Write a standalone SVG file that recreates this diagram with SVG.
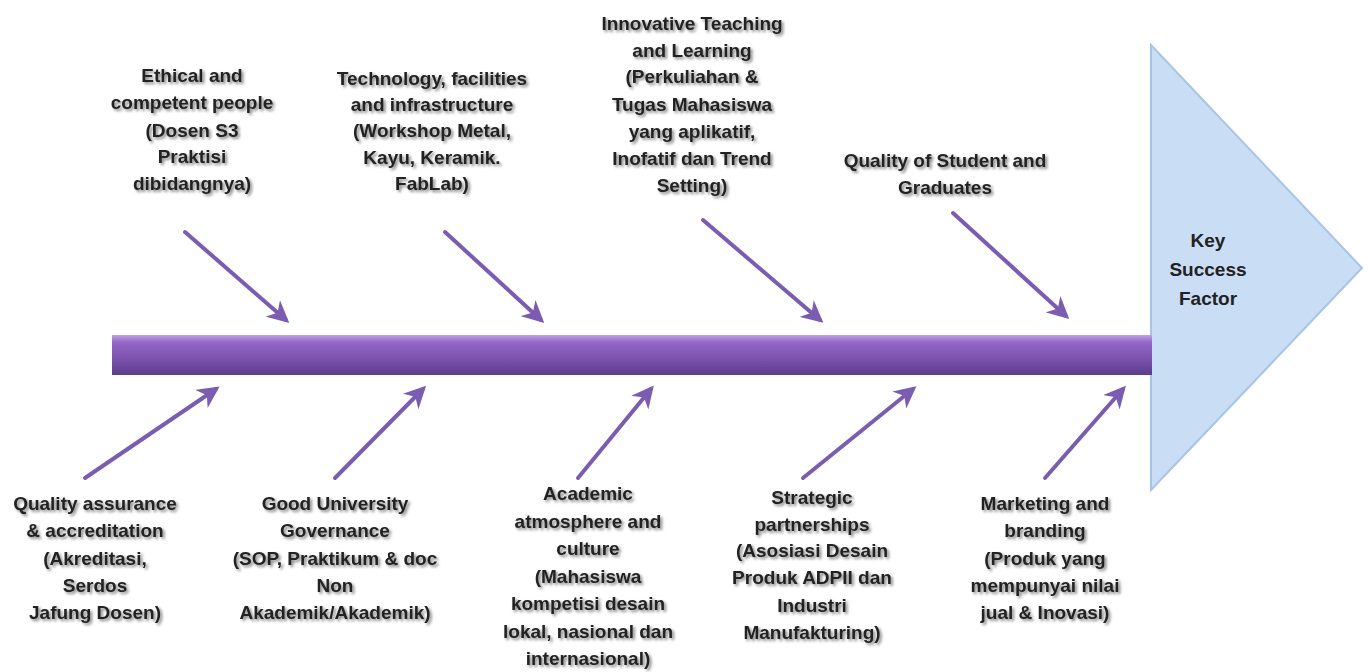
<svg xmlns="http://www.w3.org/2000/svg" width="1368" height="672" viewBox="0 0 1368 672">
<defs>
<linearGradient id="spine" x1="0" y1="0" x2="0" y2="1">
<stop offset="0" stop-color="#c0a3e6"/>
<stop offset="0.18" stop-color="#9467c8"/>
<stop offset="0.6" stop-color="#7b52ae"/>
<stop offset="1" stop-color="#5c3c8a"/>
</linearGradient>
<marker id="ah" viewBox="0 0 10 10" refX="8" refY="5" markerWidth="5.5" markerHeight="5.5" orient="auto" markerUnits="strokeWidth">
<path d="M0,0 L10,5 L0,10 L3,5 Z" fill="#7a5db0"/>
</marker>
<filter id="sh" x="-10%" y="-10%" width="120%" height="130%">
<feGaussianBlur in="SourceAlpha" stdDeviation="1.4"/>
<feOffset dx="1.5" dy="2" result="b"/>
<feComponentTransfer><feFuncA type="linear" slope="0.5"/></feComponentTransfer>
<feMerge><feMergeNode/><feMergeNode in="SourceGraphic"/></feMerge>
</filter>
</defs>
<style>
text{font-family:"Liberation Sans",Arial,sans-serif;font-weight:bold;font-size:19px;fill:#222222;text-anchor:middle}
.ar{stroke:#7a5db0;stroke-width:4;fill:none;marker-end:url(#ah);stroke-linecap:round}
</style>
<rect width="1368" height="672" fill="#ffffff"/>
<g id="head">
<polygon points="1151,45 1151,490 1362,268" fill="#c9ddf5" stroke="#a9c4e4" stroke-width="2"/>
<text x="1208" y="247">Key</text>
<text x="1208" y="276">Success</text>
<text x="1208" y="305">Factor</text>
</g>
<g id="spine-g">
<rect x="112" y="335" width="1040" height="40" fill="url(#spine)"/>
</g>
<g id="connectors">
<line class="ar" x1="185" y1="232" x2="286" y2="320"/>
<line class="ar" x1="445" y1="232" x2="541" y2="320"/>
<line class="ar" x1="703" y1="220" x2="820" y2="320"/>
<line class="ar" x1="953" y1="213" x2="1066" y2="316"/>
<line class="ar" x1="85" y1="478" x2="216" y2="389"/>
<line class="ar" x1="335" y1="478" x2="423" y2="389"/>
<line class="ar" x1="578" y1="478" x2="651" y2="389"/>
<line class="ar" x1="803" y1="478" x2="913" y2="389"/>
<line class="ar" x1="1045" y1="478" x2="1123" y2="389"/>
</g>
<g id="t1" filter="url(#sh)">
<text x="192" y="82">Ethical and</text>
<text x="192" y="109">competent people</text>
<text x="192" y="137">(Dosen S3</text>
<text x="192" y="163">Praktisi</text>
<text x="192" y="190">dibidangnya)</text>
</g>
<g id="t2" filter="url(#sh)">
<text x="432" y="85">Technology,  facilities</text>
<text x="432" y="111">and infrastructure</text>
<text x="432" y="137">(Workshop Metal,</text>
<text x="432" y="164">Kayu, Keramik.</text>
<text x="432" y="190">FabLab)</text>
</g>
<g id="t3" filter="url(#sh)">
<text x="692" y="30">Innovative Teaching</text>
<text x="692" y="57">and Learning</text>
<text x="692" y="83">(Perkuliahan &amp;</text>
<text x="692" y="111">Tugas Mahasiswa</text>
<text x="692" y="138">yang aplikatif,</text>
<text x="692" y="165">Inofatif dan Trend</text>
<text x="692" y="192">Setting)</text>
</g>
<g id="t4" filter="url(#sh)">
<text x="945" y="167">Quality of Student and</text>
<text x="945" y="194">Graduates</text>
</g>
<g id="b1" filter="url(#sh)">
<text x="95" y="510">Quality assurance</text>
<text x="95" y="537">&amp; accreditation</text>
<text x="95" y="565">(Akreditasi,</text>
<text x="95" y="592">Serdos</text>
<text x="95" y="619">Jafung Dosen)</text>
</g>
<g id="b2" filter="url(#sh)">
<text x="335" y="510">Good University</text>
<text x="335" y="537">Governance</text>
<text x="335" y="565">(SOP, Praktikum &amp; doc</text>
<text x="335" y="592">Non</text>
<text x="335" y="619">Akademik/Akademik)</text>
</g>
<g id="b3" filter="url(#sh)">
<text x="588" y="500">Academic</text>
<text x="588" y="528">atmosphere and</text>
<text x="588" y="555">culture</text>
<text x="588" y="583">(Mahasiswa</text>
<text x="588" y="610">kompetisi desain</text>
<text x="588" y="638">lokal, nasional dan</text>
<text x="588" y="665">internasional)</text>
</g>
<g id="b4" filter="url(#sh)">
<text x="812" y="504">Strategic</text>
<text x="812" y="531">partnerships</text>
<text x="812" y="557">(Asosiasi Desain</text>
<text x="812" y="584">Produk ADPII dan</text>
<text x="812" y="612">Industri</text>
<text x="812" y="639">Manufakturing)</text>
</g>
<g id="b5" filter="url(#sh)">
<text x="1045" y="510">Marketing and</text>
<text x="1045" y="537">branding</text>
<text x="1045" y="565">(Produk yang</text>
<text x="1045" y="592">mempunyai nilai</text>
<text x="1045" y="619">jual &amp; Inovasi)</text>
</g>
</svg>
